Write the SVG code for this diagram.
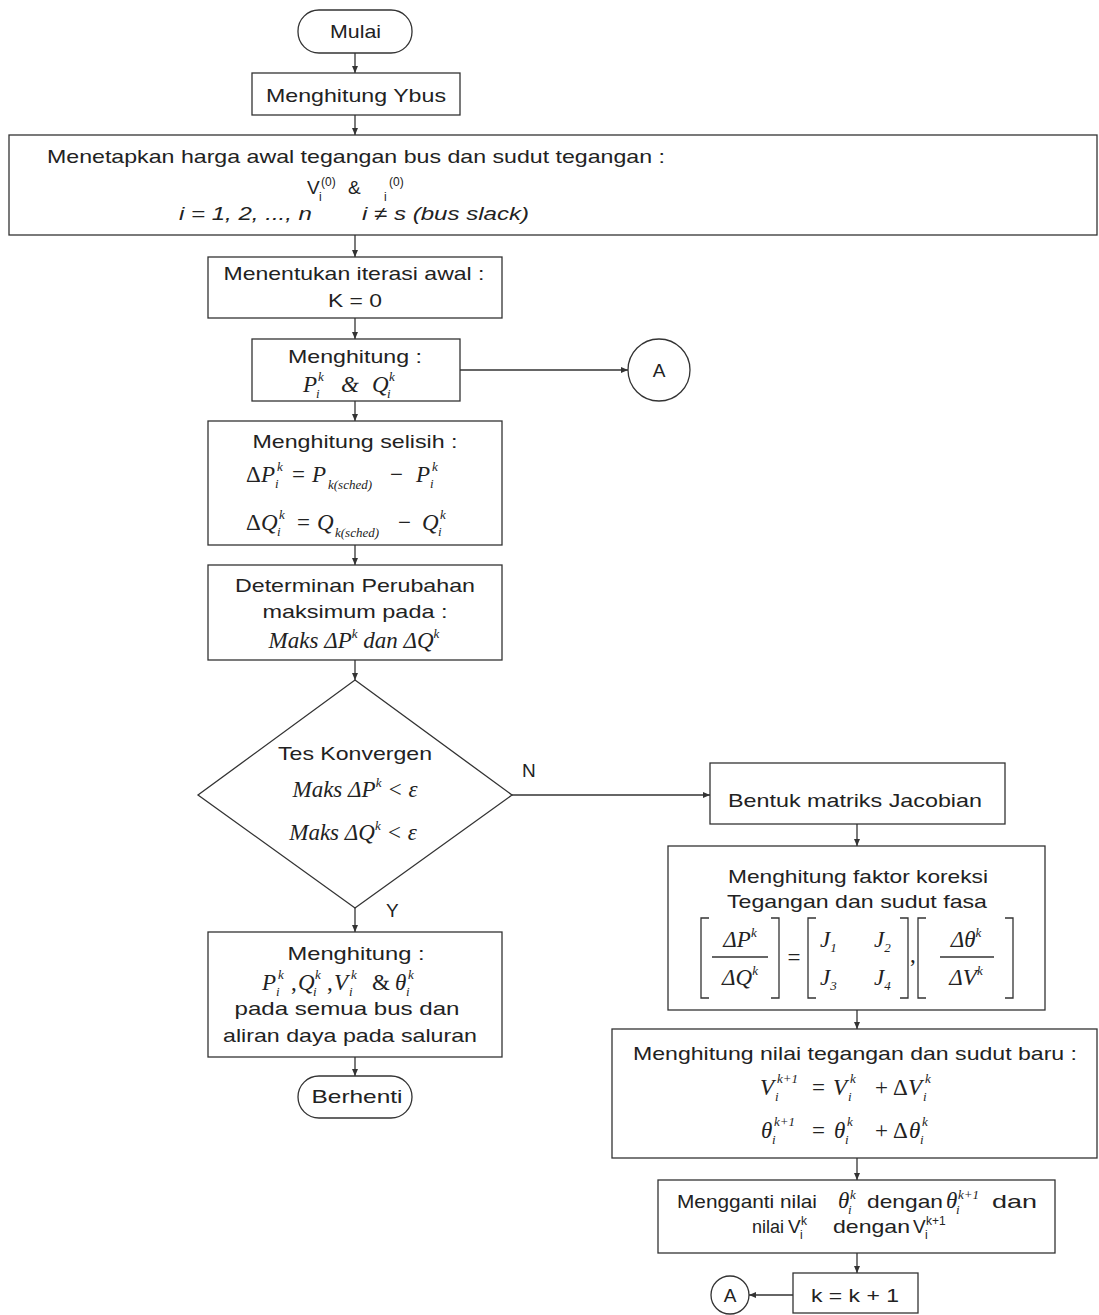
<svg xmlns="http://www.w3.org/2000/svg" width="1099" height="1315" viewBox="0 0 1099 1315">
<style>
.bx{fill:#fff;stroke:#333;stroke-width:1.3}
.ln{fill:none;stroke:#333;stroke-width:1.3}
.t{font-family:"Liberation Sans",Arial,sans-serif;font-size:19px;fill:#222}
.ti{font-family:"Liberation Sans",Arial,sans-serif;font-size:19px;font-style:italic;fill:#222}
.m{font-family:"Liberation Serif","Times New Roman",serif;font-style:italic;font-size:23px;fill:#222}
.mu{font-family:"Liberation Serif","Times New Roman",serif;font-size:23px;fill:#222}
.s{font-family:"Liberation Serif","Times New Roman",serif;font-style:italic;font-size:13px;fill:#222}
.su{font-family:"Liberation Serif","Times New Roman",serif;font-size:13px;fill:#222}
.ss{font-family:"Liberation Sans",Arial,sans-serif;font-size:12px;fill:#222}
.c{text-anchor:middle}
</style>
<defs>
<marker id="ah" markerWidth="8" markerHeight="8" refX="7" refY="4" orient="auto" markerUnits="userSpaceOnUse"><path d="M0,1 L7,4 L0,7 z" fill="#333"/></marker>
</defs>
<rect width="1099" height="1315" fill="#fff"/>

<g id="connectors" class="ln">
<line x1="355" y1="53" x2="355" y2="73" marker-end="url(#ah)"/>
<line x1="355" y1="115" x2="355" y2="135" marker-end="url(#ah)"/>
<line x1="355" y1="235" x2="355" y2="257" marker-end="url(#ah)"/>
<line x1="355" y1="318" x2="355" y2="339" marker-end="url(#ah)"/>
<line x1="460" y1="370" x2="628" y2="370" marker-end="url(#ah)"/>
<line x1="355" y1="401" x2="355" y2="421" marker-end="url(#ah)"/>
<line x1="355" y1="545" x2="355" y2="565" marker-end="url(#ah)"/>
<line x1="355" y1="660" x2="355" y2="680" marker-end="url(#ah)"/>
<line x1="512" y1="795" x2="710" y2="795" marker-end="url(#ah)"/>
<line x1="355" y1="908" x2="355" y2="932" marker-end="url(#ah)"/>
<line x1="355" y1="1057" x2="355" y2="1076" marker-end="url(#ah)"/>
<line x1="857" y1="824" x2="857" y2="846" marker-end="url(#ah)"/>
<line x1="857" y1="1010" x2="857" y2="1029" marker-end="url(#ah)"/>
<line x1="857" y1="1158" x2="857" y2="1180" marker-end="url(#ah)"/>
<line x1="857" y1="1253" x2="857" y2="1273" marker-end="url(#ah)"/>
<line x1="793" y1="1295" x2="749" y2="1295" marker-end="url(#ah)"/>
</g>

<g id="mulai">
<rect class="bx" x="298" y="10" width="114" height="43" rx="21"/>
<text class="t c" x="355.5" y="38" textLength="51" lengthAdjust="spacingAndGlyphs">Mulai</text>
</g>

<g id="ybus">
<rect class="bx" x="252" y="73" width="208" height="42"/>
<text class="t c" x="356" y="102" textLength="180" lengthAdjust="spacingAndGlyphs">Menghitung Ybus</text>
</g>

<g id="menetapkan">
<rect class="bx" x="9" y="135" width="1088" height="100"/>
<text class="t c" x="356" y="163" textLength="618" lengthAdjust="spacingAndGlyphs">Menetapkan harga awal tegangan bus dan sudut tegangan :</text>
<text class="t" x="307" y="194">V</text>
<text class="ss" x="321" y="186">(0)</text>
<text class="ss" x="319" y="201">i</text>
<text class="t" x="348" y="194">&amp;</text>
<text class="ss" x="384" y="201">i</text>
<text class="ss" x="389" y="186">(0)</text>
<text class="ti" x="179" y="220" textLength="133" lengthAdjust="spacingAndGlyphs">i = 1, 2, ..., n</text>
<text class="ti" x="362" y="220" textLength="167" lengthAdjust="spacingAndGlyphs">i ≠ s (bus slack)</text>
</g>

<g id="iterasi">
<rect class="bx" x="208" y="257" width="294" height="61"/>
<text class="t c" x="354" y="280" textLength="261" lengthAdjust="spacingAndGlyphs">Menentukan iterasi awal :</text>
<text class="t c" x="355" y="307" textLength="54" lengthAdjust="spacingAndGlyphs">K = 0</text>
</g>

<g id="hitung-pq">
<rect class="bx" x="252" y="339" width="208" height="62"/>
<text class="t c" x="355" y="363" textLength="134" lengthAdjust="spacingAndGlyphs">Menghitung :</text>
<text class="m" x="303" y="392">P</text>
<text class="s" x="318" y="381">k</text>
<text class="s" x="316" y="398">i</text>
<text class="m" x="341" y="392">&amp;</text>
<text class="m" x="372" y="392">Q</text>
<text class="s" x="389" y="381">k</text>
<text class="s" x="387" y="398">i</text>
</g>

<g id="konektor-a1">
<circle class="bx" cx="659" cy="370" r="31"/>
<text class="t c" x="659" y="377">A</text>
</g>

<g id="selisih">
<rect class="bx" x="208" y="421" width="294" height="124"/>
<text class="t c" x="355" y="448" textLength="205" lengthAdjust="spacingAndGlyphs">Menghitung selisih :</text>
<text class="mu" x="246" y="482">Δ</text>
<text class="m" x="261" y="482">P</text>
<text class="s" x="277" y="471">k</text>
<text class="s" x="275" y="488">i</text>
<text class="mu" x="292" y="482">=</text>
<text class="m" x="312" y="482">P</text>
<text class="s" x="328" y="489">k(sched)</text>
<text class="mu" x="390" y="482">−</text>
<text class="m" x="416" y="482">P</text>
<text class="s" x="432" y="471">k</text>
<text class="s" x="430" y="488">i</text>
<text class="mu" x="246" y="530">Δ</text>
<text class="m" x="261" y="530">Q</text>
<text class="s" x="279" y="519">k</text>
<text class="s" x="277" y="536">i</text>
<text class="mu" x="297" y="530">=</text>
<text class="m" x="317" y="530">Q</text>
<text class="s" x="335" y="537">k(sched)</text>
<text class="mu" x="398" y="530">−</text>
<text class="m" x="422" y="530">Q</text>
<text class="s" x="440" y="519">k</text>
<text class="s" x="438" y="536">i</text>
</g>

<g id="determinan">
<rect class="bx" x="208" y="565" width="294" height="95"/>
<text class="t c" x="355" y="592" textLength="240" lengthAdjust="spacingAndGlyphs">Determinan Perubahan</text>
<text class="t c" x="355" y="618" textLength="185" lengthAdjust="spacingAndGlyphs">maksimum pada :</text>
<text class="m c" x="354" y="648">Maks ΔP<tspan class="s" dy="-10">k</tspan><tspan dy="10"> dan ΔQ</tspan><tspan class="s" dy="-10">k</tspan></text>
</g>

<g id="tes-konvergen">
<polygon class="bx" points="355,680 512,795 355,908 198,795"/>
<text class="t c" x="355" y="760" textLength="154" lengthAdjust="spacingAndGlyphs">Tes Konvergen</text>
<text class="m c" x="355" y="797">Maks  ΔP<tspan class="s" dy="-10">k</tspan><tspan dy="10">  &lt; ε</tspan></text>
<text class="m c" x="353" y="840">Maks ΔQ<tspan class="s" dy="-10">k</tspan><tspan dy="10">  &lt; ε</tspan></text>
<text class="t" x="522" y="777" font-size="22">N</text>
<text class="t" x="386" y="917" font-size="22">Y</text>
</g>

<g id="hitung-akhir">
<rect class="bx" x="208" y="932" width="294" height="125"/>
<text class="t c" x="356" y="960" textLength="137" lengthAdjust="spacingAndGlyphs">Menghitung :</text>
<text class="m" x="262" y="990">P</text>
<text class="s" x="278" y="979">k</text>
<text class="s" x="276" y="996">i</text>
<text class="mu" x="291" y="990">,</text>
<text class="m" x="298" y="990">Q</text>
<text class="s" x="315" y="979">k</text>
<text class="s" x="313" y="996">i</text>
<text class="mu" x="327" y="990">,</text>
<text class="m" x="334" y="990">V</text>
<text class="s" x="351" y="979">k</text>
<text class="s" x="349" y="996">i</text>
<text class="mu" x="372" y="990">&amp;</text>
<text class="m" x="395" y="990">θ</text>
<text class="s" x="408" y="979">k</text>
<text class="s" x="406" y="996">i</text>
<text class="t c" x="347" y="1015" textLength="225" lengthAdjust="spacingAndGlyphs">pada semua bus dan</text>
<text class="t c" x="350" y="1042" textLength="254" lengthAdjust="spacingAndGlyphs">aliran daya pada saluran</text>
</g>

<g id="berhenti">
<rect class="bx" x="298" y="1076" width="114" height="42" rx="21"/>
<text class="t c" x="357" y="1103" textLength="91" lengthAdjust="spacingAndGlyphs">Berhenti</text>
</g>

<g id="jacobian">
<rect class="bx" x="710" y="763" width="295" height="61"/>
<text class="t c" x="855" y="807" textLength="254" lengthAdjust="spacingAndGlyphs">Bentuk matriks Jacobian</text>
</g>

<g id="koreksi">
<rect class="bx" x="668" y="846" width="377" height="164"/>
<text class="t c" x="858" y="883" textLength="260" lengthAdjust="spacingAndGlyphs">Menghitung faktor koreksi</text>
<text class="t c" x="857" y="908" textLength="260" lengthAdjust="spacingAndGlyphs">Tegangan dan sudut fasa</text>
<path class="ln" d="M709,918 H701 V998 H709 M771,918 H779 V998 H771"/>
<text class="m c" x="740" y="947">ΔP<tspan class="s" dy="-10">k</tspan></text>
<line class="ln" x1="712" y1="957" x2="768" y2="957"/>
<text class="m c" x="740" y="985">ΔQ<tspan class="s" dy="-10">k</tspan></text>
<text class="mu c" x="794" y="965">=</text>
<path class="ln" d="M816,918 H808 V998 H816 M900,918 H908 V998 H900"/>
<text class="m" x="820" y="947">J<tspan class="su" dy="5">1</tspan></text>
<text class="m" x="874" y="947">J<tspan class="su" dy="5">2</tspan></text>
<text class="m" x="820" y="985">J<tspan class="su" dy="5">3</tspan></text>
<text class="m" x="874" y="985">J<tspan class="su" dy="5">4</tspan></text>
<text class="mu" x="910" y="962">,</text>
<path class="ln" d="M926,918 H918 V998 H926 M1005,918 H1013 V998 H1005"/>
<text class="m c" x="966" y="947">Δθ<tspan class="s" dy="-10">k</tspan></text>
<line class="ln" x1="940" y1="957" x2="994" y2="957"/>
<text class="m c" x="966" y="985">ΔV<tspan class="s" dy="-10">k</tspan></text>
</g>

<g id="nilai-baru">
<rect class="bx" x="612" y="1029" width="485" height="129"/>
<text class="t c" x="855" y="1060" textLength="444" lengthAdjust="spacingAndGlyphs">Menghitung nilai tegangan dan sudut baru :</text>
<text class="m" x="760" y="1095">V</text>
<text class="s" x="777" y="1083">k+1</text>
<text class="s" x="775" y="1101">i</text>
<text class="mu" x="812" y="1095">=</text>
<text class="m" x="833" y="1095">V</text>
<text class="s" x="850" y="1083">k</text>
<text class="s" x="848" y="1101">i</text>
<text class="mu" x="875" y="1095">+</text>
<text class="mu" x="893" y="1095">Δ</text>
<text class="m" x="908" y="1095">V</text>
<text class="s" x="925" y="1083">k</text>
<text class="s" x="923" y="1101">i</text>
<text class="m" x="761" y="1138">θ</text>
<text class="s" x="774" y="1126">k+1</text>
<text class="s" x="772" y="1144">i</text>
<text class="mu" x="812" y="1138">=</text>
<text class="m" x="834" y="1138">θ</text>
<text class="s" x="847" y="1126">k</text>
<text class="s" x="845" y="1144">i</text>
<text class="mu" x="875" y="1138">+</text>
<text class="mu" x="893" y="1138">Δ</text>
<text class="m" x="909" y="1138">θ</text>
<text class="s" x="922" y="1126">k</text>
<text class="s" x="920" y="1144">i</text>
</g>

<g id="mengganti">
<rect class="bx" x="658" y="1180" width="397" height="73"/>
<text class="t" x="677" y="1208" textLength="140" lengthAdjust="spacingAndGlyphs">Mengganti nilai</text>
<text class="m" x="838" y="1208" font-size="20">θ</text>
<text class="s" x="850" y="1199" font-size="12">k</text>
<text class="s" x="848" y="1214" font-size="12">i</text>
<text class="t" x="867" y="1208" textLength="76" lengthAdjust="spacingAndGlyphs">dengan</text>
<text class="m" x="946" y="1208" font-size="20">θ</text>
<text class="s" x="958" y="1199" font-size="12">k+1</text>
<text class="s" x="956" y="1214" font-size="12">i</text>
<text class="t" x="992" y="1208" textLength="45" lengthAdjust="spacingAndGlyphs">dan</text>
<text class="t" x="752" y="1233" textLength="32" lengthAdjust="spacingAndGlyphs">nilai</text>
<text class="t" x="788" y="1233">V</text>
<text class="ss" x="801" y="1225">k</text>
<text class="ss" x="800" y="1239">i</text>
<text class="t" x="833" y="1233" textLength="77" lengthAdjust="spacingAndGlyphs">dengan</text>
<text class="t" x="913" y="1233">V</text>
<text class="ss" x="926" y="1225">k+1</text>
<text class="ss" x="925" y="1239">i</text>
</g>

<g id="increment">
<rect class="bx" x="793" y="1273" width="125" height="40"/>
<text class="t c" x="855" y="1302" textLength="88" lengthAdjust="spacingAndGlyphs">k = k + 1</text>
</g>

<g id="konektor-a2">
<circle class="bx" cx="730" cy="1295" r="19"/>
<text class="t c" x="730" y="1302">A</text>
</g>
</svg>
